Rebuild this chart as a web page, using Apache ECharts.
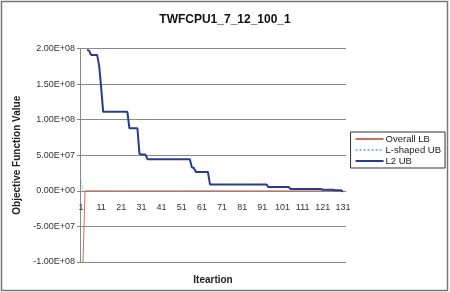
<!DOCTYPE html>
<html>
<head>
<meta charset="utf-8">
<script src="https://cdn.jsdelivr.net/npm/echarts@6/dist/echarts.min.js"></script>
<style>
  html, body { margin: 0; padding: 0; background: #fff; }
  #chart { width: 450px; height: 292px; }
</style>
</head>
<body>
<div id="chart"></div>
<script>
// iterations 1..132
const iterations = [];
for (let i = 1; i <= 132; i++) iterations.push(String(i));

const chartTitle = 'TWFCPU1_7_12_100_1';
const seriesNames = ['Overall LB', 'L-shaped UB', 'L2 UB'];

// Overall LB: jumps from -1e8 to 0 at the start, then stays at 0
const overallLB = [
  null, -1.0e8, 0, 0, 0, 0, 0, 0, 0, 0,
  0, 0, 0, 0, 0, 0, 0, 0, 0, 0,
  0, 0, 0, 0, 0, 0, 0, 0, 0, 0,
  0, 0, 0, 0, 0, 0, 0, 0, 0, 0,
  0, 0, 0, 0, 0, 0, 0, 0, 0, 0,
  0, 0, 0, 0, 0, 0, 0, 0, 0, 0,
  0, 0, 0, 0, 0, 0, 0, 0, 0, 0,
  0, 0, 0, 0, 0, 0, 0, 0, 0, 0,
  0, 0, 0, 0, 0, 0, 0, 0, 0, 0,
  0, 0, 0, 0, 0, 0, 0, 0, 0, 0,
  0, 0, 0, 0, 0, 0, 0, 0, 0, 0,
  0, 0, 0, 0, 0, 0, 0, 0, 0, 0,
  0, 0, 0, 0, 0, 0, 0, 0, 0, 0,
  0, null
];

// L-shaped UB: only a short piece visible at the very start
const lShapedUB = [1.6e7, 0];

// L2 UB
const l2UB = [
  null, null, null, 1.98e8, 1.97e8, 1.91e8, 1.91e8, 1.91e8, 1.91e8, 1.76e8,
  1.45e8, 1.11e8, 1.11e8, 1.11e8, 1.11e8, 1.11e8, 1.11e8, 1.11e8, 1.11e8, 1.11e8,
  1.11e8, 1.11e8, 1.11e8, 1.11e8, 8.8e7, 8.8e7, 8.8e7, 8.8e7, 8.8e7, 5.2e7,
  5.1e7, 5.1e7, 5.1e7, 4.45e7, 4.45e7, 4.45e7, 4.45e7, 4.45e7, 4.45e7, 4.45e7,
  4.45e7, 4.45e7, 4.45e7, 4.45e7, 4.45e7, 4.45e7, 4.45e7, 4.45e7, 4.45e7, 4.45e7,
  4.45e7, 4.45e7, 4.45e7, 4.45e7, 4.45e7, 3.3e7, 3.2e7, 2.65e7, 2.65e7, 2.65e7,
  2.65e7, 2.65e7, 2.65e7, 2.65e7, 9.0e6, 9.0e6, 9.0e6, 9.0e6, 9.0e6, 9.0e6,
  9.0e6, 9.0e6, 9.0e6, 9.0e6, 9.0e6, 9.0e6, 9.0e6, 9.0e6, 9.0e6, 9.0e6,
  9.0e6, 9.0e6, 9.0e6, 9.0e6, 9.0e6, 9.0e6, 9.0e6, 9.0e6, 9.0e6, 9.0e6,
  9.0e6, 9.0e6, 9.0e6, 5.3e6, 5.3e6, 5.3e6, 5.3e6, 5.3e6, 5.3e6, 5.3e6,
  5.3e6, 5.3e6, 5.3e6, 5.3e6, 2.5e6, 2.5e6, 2.5e6, 2.5e6, 2.5e6, 2.5e6,
  2.5e6, 2.5e6, 2.5e6, 2.5e6, 2.5e6, 2.5e6, 2.5e6, 2.5e6, 2.5e6, 2.5e6,
  1.5e6, 1.5e6, 1.5e6, 1.5e6, 1.5e6, 1.5e6, 8e5, 8e5, 8e5, 8e5,
  -1e6, null
];

const yMin = -1e8, yMax = 2e8, yStep = 5e7;

// 2.00E+08 style labels
const sci = (v) => {
  let s = Number(v).toExponential(2);
  let [m, e] = s.split('e');
  let sign = e[0] === '-' ? '-' : '+';
  e = e.replace('+', '').replace('-', '');
  if (e.length < 2) e = '0' + e;
  return m.toUpperCase() + 'E' + sign + e;
};

const font = 'Arial, "Liberation Sans", sans-serif';

let myChart = echarts.init(document.getElementById('chart'));
myChart.setOption({
  animation: false,
  backgroundColor: '#fff',
  title: {
    text: chartTitle,
    left: 'center',
    top: 9,
    textStyle: { fontFamily: font, fontSize: 12, fontWeight: 'bold', color: '#111' }
  },
  legend: {
    orient: 'vertical',
    right: 5,
    top: 132,
    itemWidth: 28,
    itemHeight: 8,
    itemGap: 1,
    padding: [2, 4, 2, 4],
    borderColor: '#333',
    borderWidth: 1,
    borderRadius: 0,
    itemStyle: { opacity: 0 },
    textStyle: { fontFamily: font, fontSize: 9.5, color: '#222', padding: [0, 0, 0, -3] },
    data: seriesNames
  },
  graphic: [{
    type: 'rect',
    shape: { x: 1.5, y: 1.5, width: 446, height: 289 },
    style: { fill: 'none', stroke: '#777', lineWidth: 1.5 },
    silent: true
  }],
  grid: { left: 80, right: 104, top: 48.5, bottom: 30, containLabel: false, outerBoundsMode: 'none' },
  xAxis: {
    type: 'category',
    data: iterations,
    boundaryGap: true,
    offset: -71,
    name: 'Iteartion',
    nameLocation: 'middle',
    nameGap: 84,
    nameTextStyle: { fontFamily: font, fontSize: 10, fontWeight: 'bold', color: '#222' },
    axisLine: { onZero: false, lineStyle: { color: '#888', width: 1 } },
    axisTick: { interval: 9, alignWithLabel: true, length: 3, lineStyle: { color: '#666' } },
    axisLabel: { interval: 9, fontFamily: font, fontSize: 9, color: '#333', margin: 12 },
    splitLine: { show: false }
  },
  yAxis: {
    type: 'value',
    min: yMin,
    max: yMax,
    interval: yStep,
    name: 'Objective Function Value',
    nameLocation: 'middle',
    nameGap: 51,
    nameTextStyle: { fontFamily: font, fontSize: 10, fontWeight: 'bold', color: '#222' },
    axisLine: { show: true, onZero: false, lineStyle: { color: '#888', width: 1 } },
    axisTick: { show: true, length: 3, lineStyle: { color: '#888' } },
    axisLabel: { formatter: sci, fontFamily: font, fontSize: 9, color: '#333', margin: 5 },
    splitLine: { lineStyle: { color: '#8a8a8a', width: 1 } }
  },
  series: [
    {
      name: seriesNames[0],
      type: 'line',
      data: overallLB,
      symbol: 'none',
      lineStyle: { color: '#c8705e', width: 1 },
      itemStyle: { color: '#c8705e' }
    },
    {
      name: seriesNames[1],
      type: 'line',
      data: lShapedUB,
      symbol: 'none',
      lineStyle: { color: '#6fcfc4', width: 1, type: 'dotted' },
      itemStyle: { color: '#6fcfc4' }
    },
    {
      name: seriesNames[2],
      type: 'line',
      data: l2UB,
      symbol: 'none',
      lineStyle: { color: '#283c8e', width: 2 },
      itemStyle: { color: '#283c8e' }
    }
  ]
});
</script>
</body>
</html>
